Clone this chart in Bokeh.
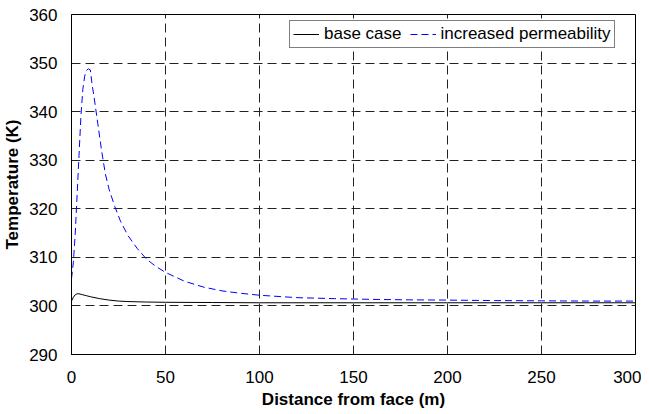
from bokeh.plotting import figure
from bokeh.models import Range1d, FixedTicker, Legend, LegendItem
from bokeh.embed import file_html
from bokeh.resources import INLINE

# Data
base_x = [0, 1, 2, 3, 4, 5, 6, 8, 10, 15, 20, 25, 30, 40, 50, 75, 100, 150, 200, 250, 300]
base_t = [301.0, 301.8, 302.3, 302.5, 302.5, 302.4, 302.3, 302.1, 301.9, 301.5, 301.2, 301.0,
          300.9, 300.8, 300.75, 300.7, 300.65, 300.65, 300.65, 300.65, 300.65]

perm_x = [0, 1, 2, 3, 4, 5, 6, 7, 8, 9, 10, 11, 12, 14, 16, 18, 20, 23, 26, 30, 35, 40, 45,
          50, 60, 70, 80, 90, 100, 120, 140, 160, 180, 200, 225, 250, 275, 300]
perm_t = [305.6, 309.0, 315.0, 323.0, 331.0, 339.0, 344.5, 347.3, 348.5, 348.8, 348.6, 345.5,
          343.0, 337.5, 332.0, 327.2, 324.0, 320.5, 317.5, 314.5, 311.8, 309.6, 308.1,
          306.9, 305.1, 303.9, 303.1, 302.6, 302.2, 301.7, 301.5, 301.35, 301.25, 301.2,
          301.1, 301.05, 301.0, 301.0]

x_ticks = [0, 50, 100, 150, 200, 250, 300]
y_ticks = [290, 300, 310, 320, 330, 340, 350, 360]

FONT = "Liberation Sans"

p = figure(width=641, height=414, output_backend="svg", toolbar_location=None,
           x_range=Range1d(0, 300), y_range=Range1d(290, 360),
           min_border_left=71, min_border_right=6, min_border_top=14, min_border_bottom=60)

p.outline_line_color = "black"
p.outline_line_width = 1
p.background_fill_color = "white"
p.border_fill_color = "white"

for ax in (p.xaxis[0], p.yaxis[0]):
    ax.major_tick_out = 0
    ax.major_tick_in = 0
    ax.minor_tick_out = 0
    ax.minor_tick_in = 0
    ax.axis_line_color = "black"
    ax.major_label_text_font = FONT
    ax.major_label_text_font_size = "17px"
    ax.major_label_text_color = "black"
    ax.axis_label_text_font = FONT
    ax.axis_label_text_font_size = "17px"
    ax.axis_label_text_font_style = "bold"
    ax.axis_label_text_color = "black"

p.xaxis.ticker = FixedTicker(ticks=x_ticks)
p.yaxis.ticker = FixedTicker(ticks=y_ticks)
p.xaxis.axis_label = "Distance from face (m)"
p.yaxis.axis_label = "Temperature (K)"
p.xaxis.major_label_standoff = 16
p.xaxis.axis_label_standoff = 4
p.yaxis.major_label_standoff = 14
p.yaxis.axis_label_standoff = 4

p.grid.grid_line_color = "#222222"
p.grid.grid_line_dash = "9 5"
p.grid.grid_line_width = 1

r1 = p.line(base_x, base_t, line_color="black", line_width=1)
r2 = p.line(perm_x, perm_t, line_color="#0000ff", line_width=1, line_dash="7 4")

legend = Legend(items=[LegendItem(label="base case", renderers=[r1]),
                       LegendItem(label="increased permeability", renderers=[r2])],
                orientation="horizontal", location=(218, 306))
legend.label_text_font = FONT
legend.label_text_font_size = "17px"
legend.label_text_color = "black"
legend.border_line_color = "black"
legend.border_line_width = 1
legend.glyph_width = 26
legend.glyph_height = 16
legend.label_height = 16
legend.label_standoff = 5
legend.padding = 3
legend.spacing = 8
legend.margin = 0
legend.background_fill_alpha = 1
p.add_layout(legend)

open("out.html", "w").write(file_html(p, INLINE))
